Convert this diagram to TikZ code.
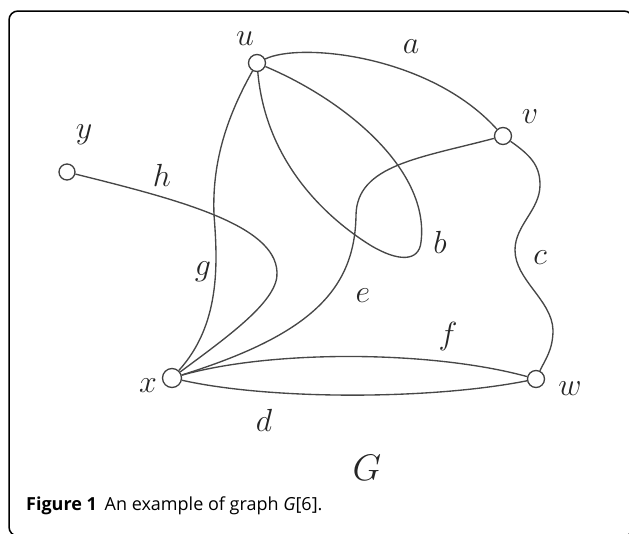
\RequirePackage{fix-cm}
\documentclass[tikz,border=0pt]{standalone}
\usepackage{fontspec}
\newfontfamily\capfont{Open Sans}
\begin{document}
\begin{tikzpicture}[x=1pt,y=-1pt,
  vtx/.style={circle,draw=black!75,fill=white,line width=1.3pt,minimum size=17pt,inner sep=0pt},
  edge/.style={draw=black!72,line width=1.35pt},
  lbl/.style={font=\fontsize{32}{32}\selectfont,text=black!85,inner sep=0pt},
  biglbl/.style={font=\fontsize{37}{37}\selectfont,text=black!85,inner sep=0pt}]
\useasboundingbox (0,0) rectangle (629,533);
\clip (0,0) rectangle (629,533);
\draw[line width=1.5pt, rounded corners=9pt] (9,11) rectangle (633,536);

% vertices
\node[vtx] (u) at (257,63) {};
\node[vtx] (v) at (503,136) {};
\node[vtx,minimum size=16pt] (y) at (67,172) {};
\node[vtx,minimum size=19pt] (x) at (172,378) {};
\node[vtx] (w) at (536,379) {};

% edges
\draw[edge] (u) .. controls (300,42) and (430,55) .. (v);                 % a
\draw[edge] (u) .. controls (345,100) and (430,170) .. (421,242)
             .. controls (419,262) and (398,262) .. (370,245)
             .. controls (330,220) and (266,165) .. (u);                   % b
\draw[edge] (v) .. controls (530,155) and (540,165) .. (540,185)
             .. controls (540,210) and (515,225) .. (515,250)
             .. controls (515,280) and (552,300) .. (553,330)
             .. controls (553,350) and (545,360) .. (w);                   % c
\draw[edge] (x) .. controls (270,400) and (430,400) .. (w);               % d
\draw[edge] (v) .. controls (420,158) and (357,165) .. (356,215)
             .. controls (355,290) and (310,335) .. (x);                   % e
\draw[edge] (x) .. controls (270,350) and (430,350) .. (w);               % f
\draw[edge] (u) .. controls (225,120) and (212,165) .. (214,215)
             .. controls (218,265) and (220,325) .. (x);                   % g
\draw[edge] (y) .. controls (180,200) and (275,225) .. (277,272)
             .. controls (279,300) and (230,335) .. (x);                   % h

% vertex labels
\node[lbl] (lu) at (245,39) {$u$};
\node[lbl] (lv) at (530,117) {$v$};
\node[lbl] (ly) at (84,135) {$y$};
\node[lbl] (lx) at (148,386) {$x$};
\node[lbl] (lw) at (570,389) {$w$};
% edge labels
\node[lbl] (la) at (411,47) {$a$};
\node[lbl] (lb) at (440,242) {$b$};
\node[lbl] (lc) at (540,258) {$c$};
\node[lbl] (ld) at (264,420) {$d$};
\node[lbl] (le) at (363,296) {$e$};
\node[lbl] (lf) at (448,336) {$f$};
\node[lbl] (lg) at (203,272) {$g$};
\node[lbl] (lh) at (162,175) {$h$};
\node[biglbl] (lG) at (367,468) {$G$};

% caption
\node[anchor=base west,inner sep=0pt,font=\capfont\fontsize{18}{18}\selectfont] (cap) at (26,510)
  {\textbf{Figure 1}\, An example of graph \textit{G}[6].};
\end{tikzpicture}
\end{document}
